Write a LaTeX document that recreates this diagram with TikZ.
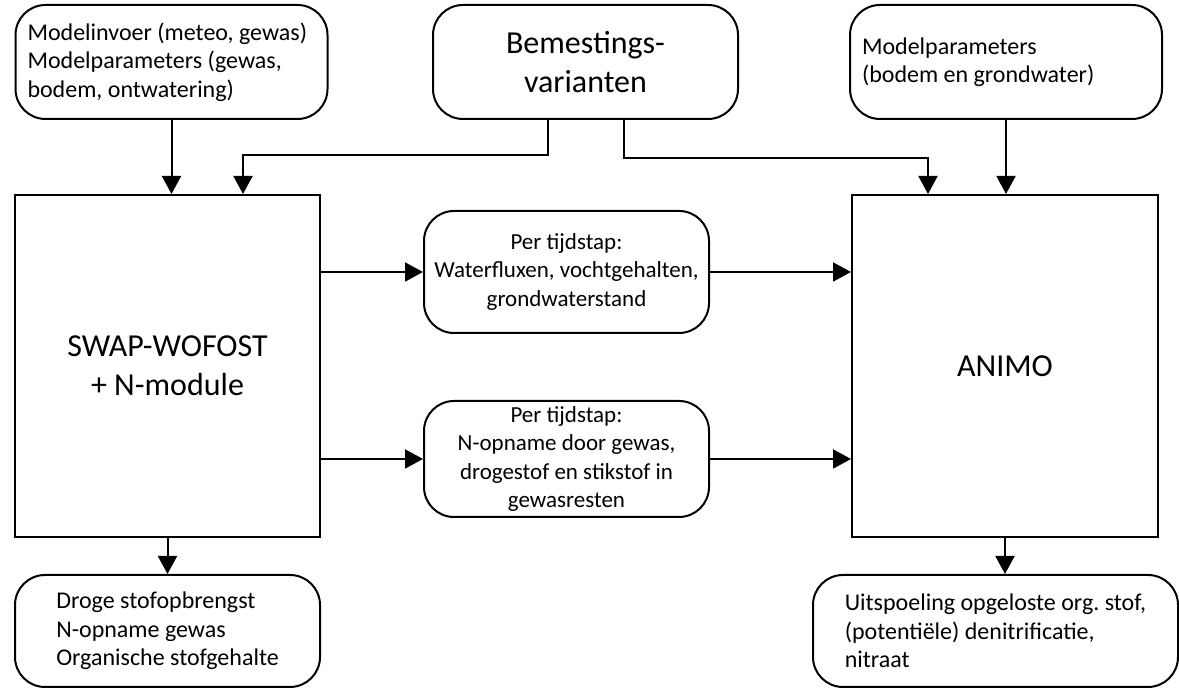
\documentclass[tikz,border=0pt]{standalone}
\usepackage{fontspec}
\setmainfont{Carlito}
\usepackage{tikz}
\usetikzlibrary{arrows.meta, positioning}

\tikzset{
  rondvak/.style={draw, rounded corners=15pt, line width=1pt, inner sep=2pt,
    font=\fontsize{12}{14.2}\selectfont},
  tijdstap/.style={rondvak, align=center, minimum width=142.5pt, font=\fontsize{11.5}{14.2}\selectfont},
  groot/.style={font=\fontsize{16}{19.5}\selectfont},
  blok/.style={draw, line width=1pt, align=center, groot},
}

\begin{document}
\begin{tikzpicture}[>={Triangle[length=9pt,width=9.5pt]}, x=0.5pt, y=0.5pt, line width=1pt]
    \useasboundingbox (0,0) rectangle (1179,688);

    % Invoer bovenaan
    \node[rondvak, text width=144pt, inner xsep=6pt, minimum height=57pt, align=flush left] (invoer) at (171.5,626)
        {Modelinvoer (meteo, gewas)\\Modelparameters (gewas,\\bodem, ontwatering)};
    \node[rondvak, groot, align=center, minimum width=152.5pt, minimum height=57pt] (bemest) at (585.5,626)
        {Bemestings-\\varianten};
    \node[rondvak, text width=144pt, inner xsep=6pt, minimum height=57pt, align=flush left] (parbodem) at (1006,626)
        {Modelparameters\\(bodem en grondwater)};

    % Modellen
    \node[blok, minimum width=152.5pt, minimum height=171pt] (swap) at (167.5,322) {SWAP-WOFOST\\+ N-module};
    \node[blok, minimum width=153pt, minimum height=171pt] (animo) at (1005,322) {ANIMO};

    % Uitwisseling per tijdstap
    \node[tijdstap, minimum height=61pt] (flux) at (566.5,416)
        {Per tijdstap:\\Waterfluxen, vochtgehalten,\\grondwaterstand};
    \node[tijdstap, minimum height=58pt] (nopname) at (566.5,229)
        {Per tijdstap:\\N-opname door gewas,\\drogestof en stikstof in\\gewasresten};

    % Uitvoer onderaan
    \node[rondvak, align=flush left, minimum width=152.5pt, minimum height=56pt] (opbrengst) at (167.5,57)
        {Droge stofopbrengst\\N-opname gewas\\Organische stofgehalte};
    \node[rondvak, align=flush left, minimum width=182.5pt, minimum height=56pt] (uitspoeling) at (995.5,57)
        {\frenchspacing Uitspoeling opgeloste org. stof,\\(potentiële) denitrificatie,\\nitraat};

    % Pijlen
    \coordinate (lknik) at (243,533);
    \coordinate (rknik) at (928,530);
    \draw[->] (invoer.south) -- (invoer.south |- swap.north);
    \draw[->] ([xshift=-19pt]bemest.south) |- (lknik) -- (lknik |- swap.north);
    \draw[->] ([xshift=19pt]bemest.south) |- (rknik) -- (rknik |- animo.north);
    \draw[->] (parbodem.south) -- (parbodem.south |- animo.north);
    \draw[->] (swap.east |- flux.west) -- (flux.west);
    \draw[->] (flux.east) -- (animo.west |- flux.east);
    \draw[->] (swap.east |- nopname.west) -- (nopname.west);
    \draw[->] (nopname.east) -- (animo.west |- nopname.east);
    \draw[->] (swap.south) -- (opbrengst.north);
    \draw[->] (animo.south) -- (animo.south |- uitspoeling.north);

\end{tikzpicture}
\end{document}
